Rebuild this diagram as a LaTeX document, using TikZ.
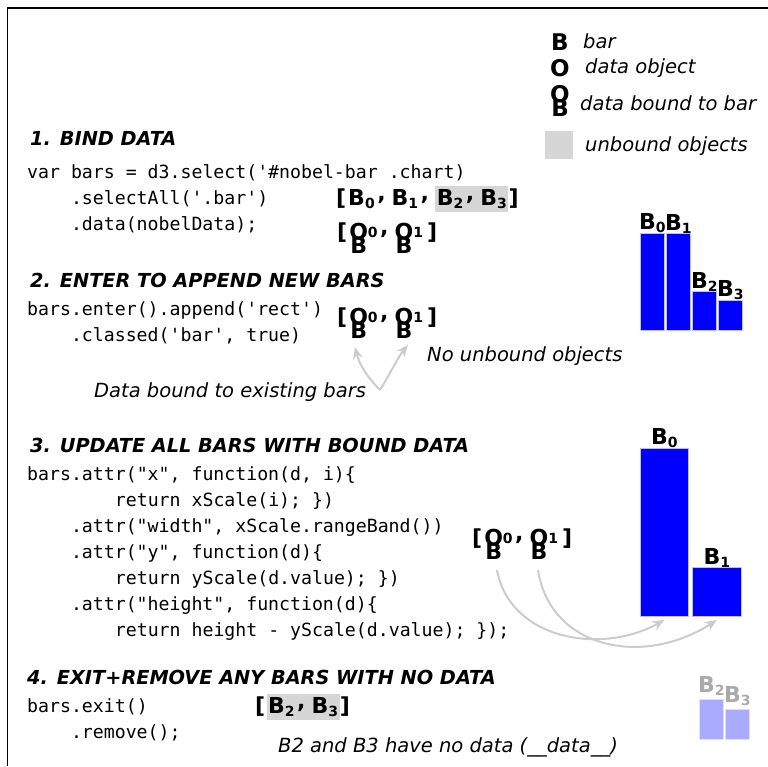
\documentclass[tikz,border=0pt]{standalone}
\usepackage{fontspec}
\setmainfont{DejaVu Sans}
\setmonofont{DejaVu Sans Mono}
\usetikzlibrary{arrows.meta,positioning,calc}
\definecolor{unbd}{HTML}{D6D6D6}
\definecolor{barblue}{HTML}{0000FF}
\definecolor{gonebar}{HTML}{AAAAFF}
\definecolor{linkgray}{HTML}{CCCCCC}
\definecolor{gonelab}{HTML}{AAAAAA}

\newcommand\subidx[1]{\raisebox{-3pt}{\fontsize{14}{14}\selectfont #1}}
\newcommand\cma{\kern2.5pt\raisebox{0.22em}{,}\kern6pt}
\newcommand\obstack{\rlap{\kern0.05em\raisebox{-0.64em}{B}}O}
\newcommand\boundob[1]{\obstack\raisebox{2pt}{\fontsize{14}{14}\selectfont #1}}

\begin{document}
\begin{tikzpicture}[x=1pt, y=-1pt,
  head/.style={anchor=base west, inner sep=0pt, font=\fontsize{19.3}{23}\selectfont\bfseries\itshape},
  code/.style={anchor=base west, inner sep=0pt, font=\fontsize{18.2}{22}\selectfont\ttfamily},
  note/.style={anchor=base west, inner sep=0pt, font=\fontsize{19.5}{23}\selectfont\itshape},
  arr/.style={anchor=base west, inner sep=0pt, font=\fontsize{22}{26}\selectfont\bfseries},
  unbound/.style={arr, fill=unbd, inner xsep=1.5pt, inner ysep=2pt, text height=17pt, text depth=5pt},
  key/.style={anchor=base west, inner sep=0pt, font=\fontsize{23}{26}\selectfont\bfseries},
  bar/.style={anchor=south west, inner sep=0pt, fill=barblue, draw=barblue!25, line width=0.8pt, minimum width=24pt},
  gone/.style={bar, fill=gonebar, draw=gonebar!40},
  barlab/.style={inner sep=0pt, font=\fontsize{22}{25}\selectfont\bfseries},
  link/.style={draw=linkgray, line width=2pt, -{Stealth[length=12pt,width=10pt]}}]
  \useasboundingbox (0,0) rectangle (768,766);

  % frame
  \draw[line width=1pt] (7,766) -- (7,8);
  \draw[line width=2pt] (6.5,8) -- (768,8);

  % key
  \node[key] (keyB) at (551,50) {B};
  \node[note] (keyBt) at (583,48) {bar};
  \node[key] (keyO) at (550,76) {O};
  \node[note] (keyOt) at (585,73) {data object};
  \node[key] (keyOB) at (550,102) {\obstack};
  \node[note] (keyOBt) at (580,110) {data bound to bar};
  \node[fill=unbd, minimum size=28pt, inner sep=0pt, anchor=north west] (keyU) at (545,131) {};
  \node[note] (keyUt) at (585,151) {unbound objects};

  % 1. bind
  \node[head] (h1) at (30,145) {1. BIND DATA};
  \node[code] (c1a) at (27,178) {var bars = d3.select('\#nobel-bar .chart)};
  \node[code] (c1b) at (70.8,204) {.selectAll('.bar')};
  \node[code] (c1c) at (70.8,230) {.data(nobelData);};
  \node[arr] (a1) at (336,205) {[\kern2pt B\subidx{0}\cma B\subidx{1}\cma};
  \node[unbound] (a1u) at (a1.base east) {B\subidx{2}\cma B\subidx{3}};
  \node[arr] (a1e) at (a1u.base east) {]};
  \node[arr] (a1b) at (337,239) {[\kern2pt\boundob{0}\cma\boundob{1}\kern4pt]};

  \node[bar, minimum height=97pt] (b0) at (640,331) {};
  \node[bar, minimum height=97pt] (b1) at (666,331) {};
  \node[bar, minimum height=39pt] (b2) at (692,331) {};
  \node[bar, minimum height=30pt] (b3) at (718,331) {};
  \node[barlab, above=0pt of b0] (b0l) {B\subidx{0}};
  \node[barlab, above=0pt of b1] (b1l) {B\subidx{1}};
  \node[barlab, above=0pt of b2] (b2l) {B\subidx{2}};
  \node[barlab, above=0pt of b3] (b3l) {B\subidx{3}};

  % 2. enter
  \node[head] (h2) at (30,287) {2. ENTER TO APPEND NEW BARS};
  \node[code] (c2a) at (27,315) {bars.enter().append('rect')};
  \node[code] (c2b) at (70.8,341) {.classed('bar', true)};
  \node[arr] (a2) at (337,324) {[\kern2pt\boundob{0}\cma\boundob{1}\kern4pt]};
  \node[note] (n2) at (427,361) {No unbound objects};
  \node[note] (n2b) at (94,397) {Data bound to existing bars};
  \coordinate (v0) at (380,390);
  \coordinate (v1) at (355,347);
  \coordinate (v2) at (408,345);
  \draw[link] (v0) .. controls +(-14,-14) and +(4,16) .. (v1);
  \draw[link] (v0) .. controls +(10,-16) and +(-10,12) .. (v2);

  % 3. update
  \node[head] (h3) at (30,452) {3. UPDATE ALL BARS WITH BOUND DATA};
  \node[code] (c3a) at (27,480) {bars.attr("x", function(d, i)\{};
  \node[code] (c3b) at (114.7,506) {return xScale(i); \})};
  \node[code] (c3c) at (70.8,532) {.attr("width", xScale.rangeBand())};
  \node[code] (c3d) at (70.8,558) {.attr("y", function(d)\{};
  \node[code] (c3e) at (114.7,584) {return yScale(d.value); \})};
  \node[code] (c3f) at (70.8,610) {.attr("height", function(d)\{};
  \node[code] (c3g) at (114.7,636) {return height - yScale(d.value); \});};
  \node[arr] (a3) at (472,545) {[\kern2pt\boundob{0}\cma\boundob{1}\kern4pt]};

  \node[bar, minimum width=48pt, minimum height=168pt] (c0) at (640,617) {};
  \node[bar, minimum width=49pt, minimum height=49pt] (c1) at (692,617) {};
  \node[barlab, above=0pt of c0] (c0l) {B\subidx{0}};
  \node[barlab, above=0pt of c1] (c1l) {B\subidx{1}};
  \coordinate (s1) at (497,570);
  \coordinate (s2) at (538,570);
  \coordinate (t1) at ($(c0.south)+(0,3)$);
  \coordinate (t2) at ($(c1.south)+(0,3)$);
  \draw[link] (s1) .. controls +(13,70) and +(-63,35) .. (t1);
  \draw[link] (s2) .. controls +(12,78) and +(-75,48) .. (t2);

  % 4. exit
  \node[head] (h4) at (27,684) {4. EXIT+REMOVE ANY BARS WITH NO DATA};
  \node[code] (c4a) at (27,712) {bars.exit()};
  \node[code] (c4b) at (70.8,738) {.remove();};
  \node[arr] (a4) at (255,713) {[\kern1pt};
  \node[unbound] (a4u) at (a4.base east) {B\subidx{2}\cma B\subidx{3}};
  \node[arr] (a4e) at (a4u.base east) {]};
  \node[note] (n4) at (278,752) {B2 and B3 have no data (\_\_data\_\_)};

  \node[gone, minimum height=40pt] (g2) at (699,740) {};
  \node[gone, minimum height=30pt] (g3) at (725,740) {};
  \node[barlab, text=gonelab, above=4pt of g2] (g2l) {B\subidx{2}};
  \node[barlab, text=gonelab, above=3pt of g3] (g3l) {B\subidx{3}};
\end{tikzpicture}
\end{document}
